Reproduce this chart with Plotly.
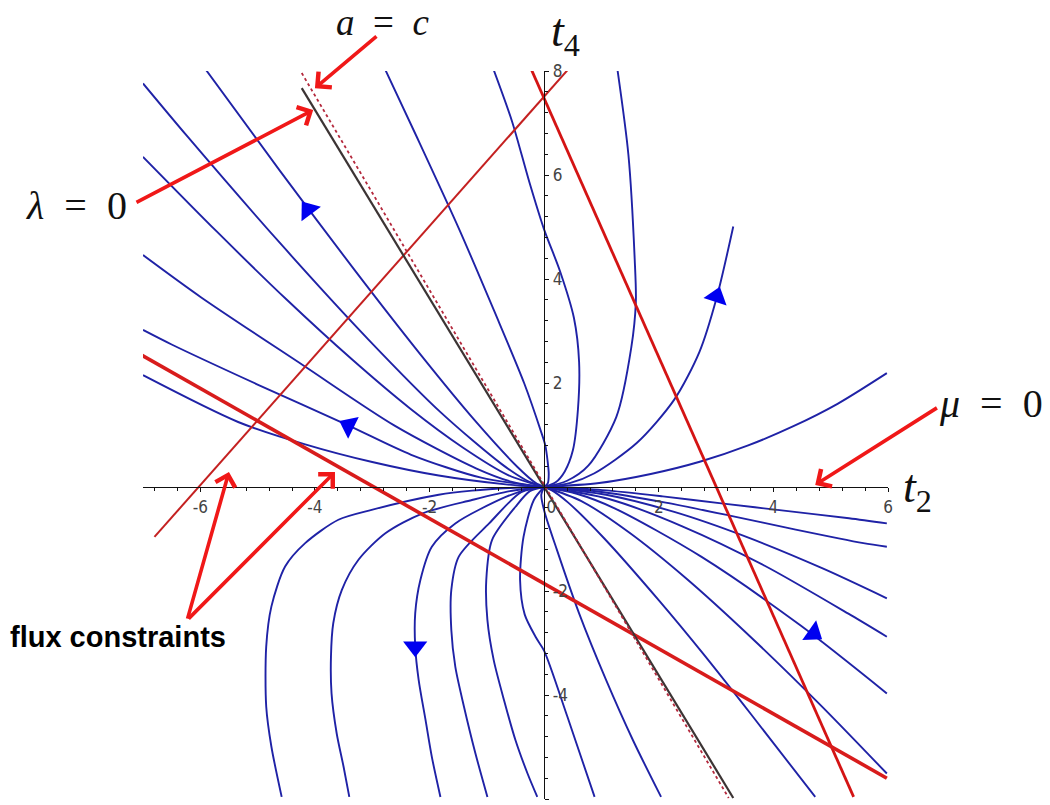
import plotly.graph_objects as go

# phase portrait trajectories (t2, t4)
# upper left
ul1_t2 = [0, -0.15, -0.47, -1.21, -2.16, -3.30, -4.61, -5.90]
ul1_t4 = [0, 0.08, 0.39, 1.28, 2.55, 4.16, 6.08, 8.02]
ul2_t2 = [0, -0.32, -0.74, -1.79, -3.07, -4.56, -6.24, -7.0]
ul2_t4 = [0, 0.135, 0.44, 1.42, 2.84, 4.63, 6.76, 7.76]
ul3_t2 = [0, -0.63, -1.42, -2.34, -3.36, -4.49, -5.71, -7.0]
ul3_t4 = [0, 0.23, 0.76, 1.51, 2.46, 3.60, 4.91, 6.35]
ul4_t2 = [0, -0.56, -1.19, -2.61, -4.22, -5.99, -7.0]
ul4_t4 = [0, 0.10, 0.36, 1.18, 2.35, 3.65, 4.46]
ul5_t2 = [0, -1.10, -2.32, -3.41, -5.02, -6.50, -7.0]
ul5_t4 = [0, 0.18, 0.62, 1.18, 1.98, 2.74, 3.02]
ul6_t2 = [0, -0.67, -1.84, -3.00, -4.17, -5.34, -7.0]
ul6_t4 = [0, 0.05, 0.22, 0.48, 0.82, 1.25, 2.15]

# upper right
ur1_t2 = [0, 0.96, 1.86, 2.73, 3.56, 4.35, 5.12, 5.98]
ur1_t4 = [0, 0.076, 0.25, 0.49, 0.80, 1.17, 1.60, 2.19]
ur2_t2 = [0, 0.46, 0.87, 1.62, 2.27, 2.71, 3.01, 3.30]
ur2_t4 = [0, 0.08, 0.26, 0.85, 1.68, 2.60, 3.64, 5.01]
ur3_t2 = [0, 0.40, 0.77, 1.26, 1.52, 1.60, 1.58, 1.47, 1.28]
ur3_t4 = [0, 0.12, 0.41, 1.35, 2.68, 3.56, 4.38, 6.39, 8.02]
ur4_t2 = [0, 0.20, 0.36, 0.50, 0.59, 0.61, 0.52, 0.28, 0, -0.26, -0.56, -0.88]
ur4_t4 = [0, 0.09, 0.30, 0.70, 1.50, 2.40, 3.25, 4.14, 4.95, 5.87, 7.03, 8.02]
ur5_t2 = [0, 0.063, 0.08, 0.06, 0.02, -0.05, -0.35, -0.87, -1.48, -2.23, -2.77]
ur5_t4 = [0, 0.068, 0.25, 0.50, 0.80, 1.05, 2.00, 3.38, 4.95, 6.75, 8.02]

# lower left
ll1_t2 = [0, -0.60, -1.26, -1.84, -3.01, -3.59, -4.17, -4.52, -4.76, -4.85, -4.85, -4.76, -4.58]
ll1_t4 = [0, -0.02, -0.07, -0.15, -0.44, -0.63, -1.08, -1.53, -2.30, -3.07, -4.22, -4.99, -5.96]
ll2_t2 = [0, -0.60, -1.26, -2.13, -2.77, -3.24, -3.53, -3.68, -3.72, -3.71, -3.62, -3.50, -3.40]
ll2_t4 = [0, -0.08, -0.25, -0.51, -0.89, -1.40, -1.98, -2.62, -3.26, -3.97, -4.74, -5.38, -5.96]
ll3_t2 = [0, -0.30, -0.67, -1.55, -1.96, -2.16, -2.25, -2.25, -2.19, -2.07, -1.96, -1.81]
ll3_t4 = [0, -0.05, -0.19, -0.70, -1.15, -1.79, -2.43, -3.07, -3.71, -4.48, -5.19, -5.96]
ll4_t2 = [0, -0.40, -0.96, -1.49, -1.62, -1.62, -1.55, -1.40, -1.20, -0.99]
ll4_t4 = [0, -0.10, -0.70, -1.34, -1.98, -2.75, -3.46, -4.22, -5.12, -5.96]
ll5_t2 = [0, -0.25, -0.50, -0.91, -1.01, -0.99, -0.88, -0.70, -0.50, -0.29, -0.12]
ll5_t4 = [0, -0.08, -0.38, -1.02, -1.79, -2.56, -3.33, -4.10, -4.87, -5.51, -5.96]
ll6_t2 = [0, -0.18, -0.36, -0.42, -0.34, -0.14, 0.0, 0.40, 0.88]
ll6_t4 = [0, -0.25, -0.96, -1.79, -2.45, -2.90, -3.15, -4.40, -5.96]
ll7_t2 = [0, -0.05, 0.0, 0.22, 0.61, 1.08, 1.55, 2.04]
ll7_t4 = [0, -0.15, -0.45, -1.20, -2.43, -3.71, -4.87, -5.96]

# lower right
lr1_t2 = [0, 0.135, 0.42, 1.05, 2.01, 2.77, 3.61, 4.73]
lr1_t4 = [0, -0.064, -0.30, -0.99, -2.19, -3.20, -4.37, -5.96]
lr2_t2 = [0, 0.65, 1.49, 2.47, 3.58, 4.81, 5.98]
lr2_t4 = [0, -0.27, -0.88, -1.75, -2.86, -4.18, -5.51]
lr3_t2 = [0, 0.57, 1.23, 2.74, 4.47, 5.98]
lr3_t4 = [0, -0.13, -0.41, -1.34, -2.66, -3.97]
lr4_t2 = [0, 1.13, 2.42, 3.84, 5.36, 5.98]
lr4_t4 = [0, -0.23, -0.76, -1.51, -2.47, -2.88]
lr5_t2 = [0, 1.08, 2.27, 3.53, 4.87, 5.98]
lr5_t4 = [0, -0.15, -0.48, -0.96, -1.57, -2.14]
lr6_t2 = [0, 1.04, 2.12, 3.24, 4.39, 5.57, 5.98]
lr6_t4 = [0, -0.10, -0.30, -0.55, -0.82, -1.08, -1.15]
lr7_t2 = [0, 1.02, 2.07, 3.13, 4.22, 5.32, 5.98]
lr7_t4 = [0, -0.06, -0.18, -0.32, -0.46, -0.60, -0.70]

# straight lines
lam_t2 = [-4.23, 3.30]        # lambda = 0
lam_t4 = [7.67, -5.98]
ac_t2 = [-4.23, 3.22]         # a = c
ac_t4 = [7.96, -5.98]
fluxA_t2 = [-6.80, 0.41]
fluxA_t4 = [-0.96, 8.02]
fluxB_t2 = [-7.03, 5.98]
fluxB_t4 = [2.54, -5.60]
steep_t2 = [-0.22, 5.40]
steep_t4 = [8.02, -5.96]

# direction arrows on the trajectories: (from, tip)
arrow_t2 = [(-3.95, -4.12), (-3.15, -3.41), (2.94, 3.01), (-2.25, -2.25), (4.44, 4.70)]
arrow_t4 = [(5.08, 5.33), (1.04, 1.18), (3.42, 3.66), (-2.80, -3.07), (-2.61, -2.81)]

x_ticks = [-6, -4, -2, 0, 2, 4, 6]
x_labels = ["-6", "-4", "-2", "\u00a0\u00a0\u00a00", "2", "4", "6"]
y_ticks = [-6, -4, -2, 2, 4, 6, 8]
y_labels = ["-6", "-4", "-2", "2", "4", "6", "8"]

flows = [
    (ul1_t2, ul1_t4), (ul2_t2, ul2_t4), (ul3_t2, ul3_t4), (ul4_t2, ul4_t4),
    (ul5_t2, ul5_t4), (ul6_t2, ul6_t4),
    (ur1_t2, ur1_t4), (ur2_t2, ur2_t4), (ur3_t2, ur3_t4), (ur4_t2, ur4_t4),
    (ur5_t2, ur5_t4),
    (ll1_t2, ll1_t4), (ll2_t2, ll2_t4), (ll3_t2, ll3_t4), (ll4_t2, ll4_t4),
    (ll5_t2, ll5_t4), (ll6_t2, ll6_t4), (ll7_t2, ll7_t4),
    (lr1_t2, lr1_t4), (lr2_t2, lr2_t4), (lr3_t2, lr3_t4), (lr4_t2, lr4_t4),
    (lr5_t2, lr5_t4), (lr6_t2, lr6_t4), (lr7_t2, lr7_t4),
]

fig = go.Figure()

for xs, ys in flows:
    fig.add_trace(go.Scatter(
        x=xs, y=ys, mode='lines',
        line=dict(color='#1f22a6', width=1.9, shape='spline', smoothing=0.8),
        hoverinfo='skip'
    ))

# red / dark lines
fig.add_trace(go.Scatter(x=fluxA_t2, y=fluxA_t4, mode='lines',
                         line=dict(color='#c42020', width=2)))
fig.add_trace(go.Scatter(x=steep_t2, y=steep_t4, mode='lines',
                         line=dict(color='#d41414', width=2.8)))
fig.add_trace(go.Scatter(x=fluxB_t2, y=fluxB_t4, mode='lines',
                         line=dict(color='#d81c1c', width=3.6)))
fig.add_trace(go.Scatter(x=lam_t2, y=lam_t4, mode='lines',
                         line=dict(color='#3c3434', width=2.2)))
fig.add_trace(go.Scatter(x=ac_t2, y=ac_t4, mode='lines',
                         line=dict(color='#b4283c', width=1.8, dash='3px,3px')))

# blue arrow heads
for xs, ys in zip(arrow_t2, arrow_t4):
    fig.add_trace(go.Scatter(
        x=list(xs), y=list(ys), mode='markers',
        marker=dict(symbol='triangle-up', size=[0, 21], color='#0000f0', opacity=1,
                    angleref='previous', line=dict(width=0)),
        hoverinfo='skip'
    ))

math_font = dict(family='Liberation Serif, DejaVu Serif, serif', size=40, color='#111111')
t_font = dict(family='Liberation Serif, DejaVu Serif, serif', size=46, color='#111111')
red = '#f01818'
sp = '\u2002'

# text labels, placed in paper coordinates
annotations = [
    dict(x=0.322, y=1.066, text=f'<i>a</i>{sp}={sp}<i>c</i>',
         font=dict(math_font, size=37)),
    dict(x=0.567, y=1.051, text='<i>t</i><sub>4</sub>', font=t_font),
    dict(x=1.040, y=0.424, text='<i>t</i><sub>2</sub>', font=t_font),
    dict(x=-0.0886, y=0.815, text=f'<i>\u03bb</i>{sp}={sp}0', font=math_font),
    dict(x=1.138, y=0.543, text=f'<i>\u03bc</i>{sp}={sp}0', font=math_font),
    dict(x=-0.0336, y=0.222, text='<b>flux constraints</b>',
         font=dict(family='Liberation Sans, Arial, sans-serif', size=29, color='#000000')),
]
for a in annotations:
    a.update(xref='paper', yref='paper', showarrow=False, xanchor='center', yanchor='middle')

# red pointer arrows: tip (x, y) and tail (ax, ay)
pointers = [
    (-4.00, 7.67, -2.90, 8.69),
    (-4.03, 7.25, -7.14, 5.46),
    (4.73, 0.04, 6.88, 1.54),
    (-5.50, 0.29, -6.23, -2.56),
    (-3.65, 0.29, -6.23, -2.56),
]
for x, y, ax, ay in pointers:
    annotations.append(dict(
        x=x, y=y, ax=ax, ay=ay, xref='x', yref='y', axref='x', ayref='y',
        text='', showarrow=True, arrowhead=4, arrowsize=1.1, arrowwidth=3.6,
        arrowcolor=red, standoff=0
    ))

tick_font = dict(family='Liberation Sans Narrow, DejaVu Sans Condensed, sans-serif',
                 size=17, color='#444444')

fig.update_layout(
    width=1050, height=805,
    margin=dict(l=143, r=162, t=71, b=6),
    paper_bgcolor='white', plot_bgcolor='white',
    showlegend=False,
    annotations=annotations,
    xaxis=dict(
        range=[-7, 6], anchor='free', position=6 / 14,
        showgrid=False, zeroline=False, showline=True, linecolor='#111111', linewidth=1.3,
        tickvals=x_ticks, ticktext=x_labels, ticks='outside', ticklen=4,
        tickcolor='#111111', tickfont=tick_font,
        minor=dict(dtick=0.4, tick0=0, ticks='outside', ticklen=3, tickcolor='#111111'),
        automargin=False,
    ),
    yaxis=dict(
        range=[-6, 8], anchor='free', position=7 / 13, side='right',
        showgrid=False, zeroline=False, showline=True, linecolor='#111111', linewidth=1.3,
        tickvals=y_ticks, ticktext=y_labels, ticks='outside', ticklen=4,
        tickcolor='#111111', tickfont=tick_font,
        minor=dict(dtick=0.4, tick0=0, ticks='outside', ticklen=3, tickcolor='#111111'),
        automargin=False,
    ),
)

fig.write_html("out.html", config={'displayModeBar': False},
               post_script="document.body.style.margin='0';")
